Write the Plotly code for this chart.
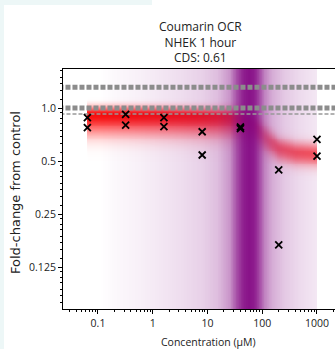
import numpy as np
import plotly.graph_objects as go

# ---------------- data ----------------
conc = [0.064, 0.064, 0.32, 0.32, 1.6, 1.6, 8, 8, 40, 40, 200, 200, 1000, 1000]
fold = [0.881, 0.773, 0.921, 0.80, 0.881, 0.784, 0.733, 0.541, 0.78, 0.765, 0.445, 0.167, 0.664, 0.533]

dotted_levels = [1.31, 1.0]
dashed_levels = [0.924]

# fitted-curve band (red)
fit_conc = [0.064, 0.32, 1.6, 8, 25, 45, 70, 100, 150, 200, 400, 1000]
fit_center = [0.93, 0.93, 0.925, 0.915, 0.90, 0.87, 0.80, 0.70, 0.63, 0.59, 0.56, 0.55]
fit_strength = [1.0, 1.0, 0.98, 0.95, 0.88, 0.7, 0.5, 0.45, 0.55, 0.62, 0.66, 0.66]
fit_sd_up = [0.09, 0.09, 0.09, 0.09, 0.1, 0.12, 0.14, 0.15, 0.14, 0.13, 0.13, 0.13]
fit_sd_down = [0.25, 0.25, 0.25, 0.25, 0.24, 0.21, 0.2, 0.18, 0.16, 0.15, 0.15, 0.15]

# benchmark-concentration density (purple)
bmc_conc = [0.064, 0.1, 0.2, 0.5, 1, 3, 8, 15, 25, 35, 45, 56, 70, 85, 110, 150, 250, 500, 1000]
bmc_level = [0.0, 0.0, 0.03, 0.06, 0.09, 0.14, 0.2, 0.28, 0.45, 0.78, 0.95, 1.0, 0.96, 0.8, 0.52, 0.35, 0.23, 0.15, 0.1]

title_lines = ["Coumarin OCR", "NHEK 1 hour", "CDS: 0.61"]
x_tick_vals = [0.1, 1, 10, 100, 1000]
x_tick_text = ["0.1", "1", "10", "100", "1000"]
y_tick_vals = [0.125, 0.25, 0.5, 1.0]
y_tick_text = ["0.125", "0.25", "0.5", "1.0"]

# axis ranges (log10 for x, log2 for y)
xr = [-1.639, 3.329]
yr2 = [-3.792, 0.736]

# ---------------- density rasters ----------------
lx_fit = np.log10(fit_conc)
gx = np.linspace(np.log10(fit_conc[0]), np.log10(fit_conc[-1]), 320)
gy = np.linspace(yr2[0], yr2[1], 260)

c = np.interp(gx, lx_fit, np.log2(fit_center))
s = np.interp(gx, lx_fit, fit_strength)
su = np.interp(gx, lx_fit, fit_sd_up)
sd = np.interp(gx, lx_fit, fit_sd_down)
d = gy[:, None] - c[None, :]
sig = np.where(d > 0, su[None, :], sd[None, :])
z_red = np.clip(s[None, :] * np.exp(-0.5 * (d / sig) ** 2), 0, 1)

lx_b = np.log10(bmc_conc)
bl = np.interp(gx, lx_b, bmc_level)
z_purple = np.vstack([bl, bl])

fig = go.Figure()

fig.add_trace(go.Heatmap(
    x=gx, y=gy, z=z_red, zmin=0, zmax=1, zsmooth="best",
    colorscale=[[0, "rgba(255,0,0,0)"], [0.5, "rgba(255,20,20,0.55)"], [1, "rgba(245,0,0,0.95)"]],
    showscale=False, hoverinfo="skip", xaxis="x", yaxis="y"))
fig.add_trace(go.Heatmap(
    x=gx, y=[-6, 3], z=z_purple, zmin=0, zmax=1, zsmooth="best",
    colorscale=[[0, "rgba(128,0,128,0)"], [1, "rgba(128,0,128,0.93)"]],
    showscale=False, hoverinfo="skip", xaxis="x", yaxis="y"))

for lv in dotted_levels:
    fig.add_trace(go.Scatter(x=[0.001, 100000], y=[lv, lv], mode="lines",
                             line=dict(color="#8c8c8c", width=5, dash="5px,2px"),
                             xaxis="x2", yaxis="y2", showlegend=False, hoverinfo="skip"))
for lv in dashed_levels:
    fig.add_trace(go.Scatter(x=[0.001, 100000], y=[lv, lv], mode="lines",
                             line=dict(color="#999999", width=1.6, dash="4px,2px"),
                             xaxis="x2", yaxis="y2", showlegend=False, hoverinfo="skip"))

fig.add_trace(go.Scatter(x=conc, y=fold, mode="markers",
                         marker=dict(symbol="x-thin", size=7, color="black",
                                     line=dict(width=1.8, color="black")),
                         xaxis="x2", yaxis="y2", showlegend=False))

x_minor = [m * 10.0 ** k for k in range(-2, 4) for m in range(2, 10)]
y_minor = [2.0 ** k * (1 + j / 8) for k in range(-5, 1) for j in range(1, 8)]

font_ticks = dict(family="Open Sans", size=10.5, color="#222")

fig.update_layout(
    width=335, height=349,
    margin=dict(l=63, r=0, t=69, b=40),
    paper_bgcolor="white", plot_bgcolor="white",
    showlegend=False,
    xaxis=dict(range=xr, visible=False, fixedrange=True),
    yaxis=dict(range=yr2, visible=False, fixedrange=True),
    xaxis2=dict(type="log", range=xr, overlaying="x", anchor="y2", side="bottom",
                showline=True, linecolor="black", linewidth=1, mirror=True,
                showgrid=False, zeroline=False,
                ticks="outside", ticklen=4, tickcolor="black", tickwidth=1,
                tickvals=x_tick_vals, ticktext=x_tick_text, tickfont=font_ticks,
                minor=dict(tickvals=x_minor, ticks="outside", ticklen=2,
                           tickcolor="black", tickwidth=1, showgrid=False)),
    yaxis2=dict(type="log", range=[yr2[0] * np.log10(2), yr2[1] * np.log10(2)],
                overlaying="y", anchor="x2", side="left",
                showline=True, linecolor="black", linewidth=1,
                showgrid=False, zeroline=False,
                ticks="outside", ticklen=4, tickcolor="black", tickwidth=1,
                tickvals=y_tick_vals, ticktext=y_tick_text, tickfont=font_ticks,
                minor=dict(tickvals=y_minor, ticks="outside", ticklen=2,
                           tickcolor="black", tickwidth=1, showgrid=False)),
    annotations=[
        dict(text="<br>".join(title_lines), xref="paper", yref="paper",
             x=(200 - 63) / 272, y=(309 - 42) / 240, xanchor="center", yanchor="middle",
             showarrow=False, font=dict(family="Open Sans", size=12, color="#222")),
        dict(text="Concentration (µM)", xref="paper", yref="paper",
             x=(208 - 63) / 272, y=(309 - 342) / 240, xanchor="center", yanchor="middle",
             showarrow=False, font=dict(family="Open Sans", size=10.5, color="#222")),
        dict(text="Fold-change from control", xref="paper", yref="paper",
             x=(15 - 63) / 272, y=(309 - 193) / 240, xanchor="center", yanchor="middle",
             textangle=-90, showarrow=False,
             font=dict(family="DejaVu Sans", size=13, color="#222")),
    ],
    shapes=[
        dict(type="rect", xref="paper", yref="paper", layer="below",
             x0=-63 / 272, x1=(152 - 63) / 272, y0=(309 - 5) / 240, y1=309 / 240,
             fillcolor="#edf7f7", line=dict(width=0)),
        dict(type="rect", xref="paper", yref="paper", layer="below",
             x0=-63 / 272, x1=(4 - 63) / 272, y0=-40 / 240, y1=309 / 240,
             fillcolor="#edf7f7", line=dict(width=0)),
    ],
)

fig.write_html("out.html")
